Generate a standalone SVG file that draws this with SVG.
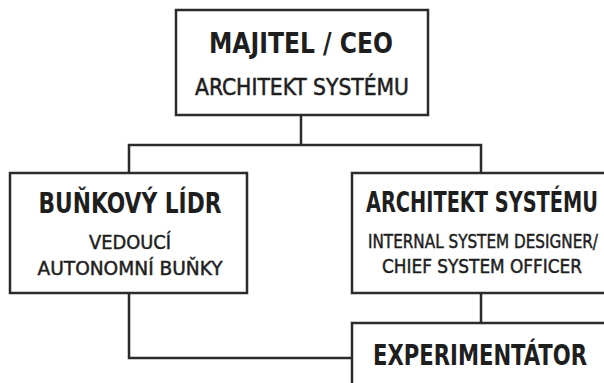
<svg xmlns="http://www.w3.org/2000/svg" width="604" height="383" viewBox="0 0 604 383">
  <style>
    .box { fill: #ffffff; stroke: #2b2b2b; stroke-width: 2.5; }
    .wire { fill: none; stroke: #2b2b2b; stroke-width: 2.5; }
    text { font-family: "DejaVu Sans Condensed", "DejaVu Sans", sans-serif; fill: #1e1e1e; text-anchor: middle; font-stretch: condensed; }
    .title { font-weight: bold; font-size: 27.5px; }
    .sub { font-size: 23px; stroke: #1e1e1e; stroke-width: 0.5; }
    .small { font-size: 19px; stroke: #1e1e1e; stroke-width: 0.45; }
  </style>
  <rect width="604" height="383" fill="#ffffff"/>

  <g id="connectors">
    <path class="wire" d="M301 115 V145"/>
    <path class="wire" d="M129 173 V145 H481 V173"/>
    <path class="wire" d="M481 293 V323"/>
    <path class="wire" d="M129 293 V358 H352"/>
  </g>

  <g id="ceo">
    <rect class="box" x="176" y="10" width="252" height="105"/>
    <text class="title" x="301" y="53" textLength="184" lengthAdjust="spacingAndGlyphs">MAJITEL / CEO</text>
    <text class="sub" x="302" y="95" textLength="214" lengthAdjust="spacingAndGlyphs">ARCHITEKT SYSTÉMU</text>
  </g>

  <g id="cell-leader">
    <rect class="box" x="10" y="173" width="237" height="120"/>
    <text class="title" x="130" y="213" textLength="183" lengthAdjust="spacingAndGlyphs">BUŇKOVÝ LÍDR</text>
    <text class="small" x="130" y="249" textLength="82" lengthAdjust="spacingAndGlyphs">VEDOUCÍ</text>
    <text class="small" x="130" y="275" textLength="185" lengthAdjust="spacingAndGlyphs">AUTONOMNÍ BUŇKY</text>
  </g>

  <g id="system-architect">
    <rect class="box" x="352" y="173" width="270" height="120"/>
    <text class="title" x="482" y="212" textLength="232" lengthAdjust="spacingAndGlyphs">ARCHITEKT SYSTÉMU</text>
    <text class="small" x="483" y="248" textLength="230" lengthAdjust="spacingAndGlyphs">INTERNAL SYSTEM DESIGNER/</text>
    <text class="small" x="482" y="273" textLength="200" lengthAdjust="spacingAndGlyphs">CHIEF SYSTEM OFFICER</text>
  </g>

  <g id="experimenter">
    <rect class="box" x="352" y="323" width="270" height="80"/>
    <text class="title" x="480" y="365" textLength="214" lengthAdjust="spacingAndGlyphs">EXPERIMENTÁTOR</text>
  </g>
</svg>
